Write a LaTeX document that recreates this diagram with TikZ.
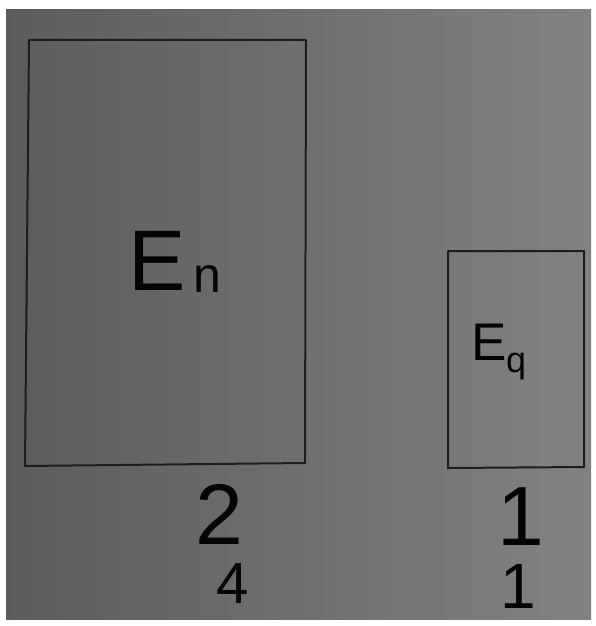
\documentclass[tikz,border=0pt]{standalone}
\usepackage{fontspec}
\setmainfont{Liberation Sans}
\definecolor{bgL}{HTML}{5C5C5C}
\definecolor{bgR}{HTML}{828282}
\definecolor{frame}{HTML}{1E1E1E}
\definecolor{ink}{HTML}{050505}
\tikzset{
  box/.style={draw=frame, line width=2pt, line join=round},
  hand/.style={text=ink, inner sep=0pt, anchor=base west},
}
\begin{document}
\begin{tikzpicture}[x=1pt,y=-1pt]
\useasboundingbox (0,0) rectangle (596,626);
\fill[white] (0,0) rectangle (596,626);
\shade[left color=bgL, right color=bgR] (6,10) rectangle (591,619);
% boxes
\draw[box] (29,40) -- (306,40) -- (305,463) -- (25,466) -- cycle;
\draw[box] (448,251) -- (584,251) -- (584,467) -- (448,468) -- cycle;
% labels
\node[hand, font=\fontsize{86}{86}\selectfont] (En) at (128,290) {E};
\node[hand, font=\fontsize{50}{50}\selectfont] (Ensub) at (193,292) {n};
\node[hand, font=\fontsize{53}{53}\selectfont] (Eq) at (471,360) {E};
\node[hand, font=\fontsize{36}{36}\selectfont] (Eqsub) at (506,372) {q};
\node[hand, font=\fontsize{86}{86}\selectfont] (n2) at (195,544) {2};
\node[hand, font=\fontsize{58}{58}\selectfont] (n4) at (216,603) {4};
\node[hand, font=\fontsize{84}{84}\selectfont] (o1) at (497,545) {1};
\node[hand, font=\fontsize{64}{64}\selectfont] (o2) at (500,608) {1};
\end{tikzpicture}
\end{document}
